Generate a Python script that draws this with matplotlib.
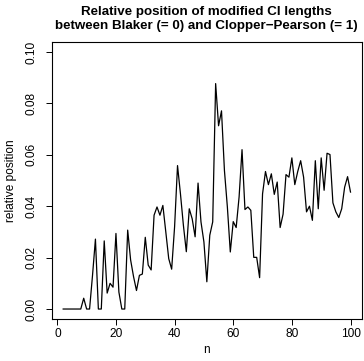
import numpy as np
import matplotlib
matplotlib.use("Agg")
import matplotlib.pyplot as plt

plt.rcParams['font.family'] = ['Liberation Sans', 'DejaVu Sans']

# relative position for n = 2..100
n = list(range(2, 101))
rel_pos = [
    0, 0, 0, 0, 0, 0, 0,                                    # 2-8
    0.0042, 0, 0, 0.013, 0.0272, 0, 0,                      # 9-15
    0.0265, 0.0062, 0.0100, 0.0085, 0.0294,                 # 16-20
    0.0066, 0, 0, 0.0307, 0.0191,                           # 21-25
    0.0126, 0.0072, 0.0131, 0.0136, 0.0279,                 # 26-30
    0.0171, 0.0152, 0.0365, 0.0397, 0.0365,                 # 31-35
    0.0403, 0.0300, 0.0196, 0.0155, 0.0320,                 # 36-40
    0.0558, 0.0448, 0.0326, 0.0223, 0.0390,                 # 41-45
    0.0351, 0.0281, 0.0490, 0.0339, 0.0261,                 # 46-50
    0.0106, 0.0287, 0.0339, 0.0877, 0.0713,                 # 51-55
    0.0771, 0.0539, 0.0397, 0.0222, 0.0340,                 # 56-60
    0.0317, 0.0436, 0.0620, 0.0387, 0.0397,                 # 61-65
    0.0384, 0.0201, 0.0201, 0.0122, 0.0448,                 # 66-70
    0.0535, 0.0484, 0.0526, 0.0446, 0.0494,                 # 71-75
    0.0317, 0.0369, 0.0523, 0.0513, 0.0588,                 # 76-80
    0.0484, 0.0535, 0.0577, 0.0513, 0.0378,                 # 81-85
    0.0400, 0.0345, 0.0577, 0.0390, 0.0588,                 # 86-90
    0.0462, 0.0606, 0.0601, 0.0413, 0.0378,                 # 91-95
    0.0356, 0.0390, 0.0474, 0.0515, 0.0455,                 # 96-100
]
x_ticks = [0, 20, 40, 60, 80, 100]
y_ticks = [0.00, 0.02, 0.04, 0.06, 0.08, 0.10]

fig = plt.figure(figsize=(3.64, 3.61), dpi=100)
ax = fig.add_axes([0.142, 0.1155, 0.8525, 0.769])

ax.plot(n, rel_pos, color='black', linewidth=0.9)

ax.set_xlim(2 - 0.04 * 98, 100 + 0.04 * 98)
ax.set_ylim(-0.004, 0.104)
ax.set_xticks(x_ticks)
ax.set_xticklabels([str(t) for t in x_ticks])
ax.set_yticks(y_ticks)
ax.set_yticklabels(['%.2f' % t for t in y_ticks], rotation=90, va='center')

ax.tick_params(direction='out', length=4, width=0.7, labelsize=8.6, colors='black')
ax.tick_params(axis='x', pad=2.5)
ax.tick_params(axis='y', pad=6)
for s in ax.spines.values():
    s.set_linewidth(0.8)

ax.set_xlabel('n', fontsize=8.6, labelpad=3)
ax.set_ylabel('relative position', fontsize=8.6, labelpad=6)

fig.text(0.566, 0.966, 'Relative position of modified CI lengths',
         ha='center', va='center', fontsize=9.6, fontweight='bold')
fig.text(0.566, 0.928, 'between Blaker (= 0) and Clopper\u2212Pearson (= 1)',
         ha='center', va='center', fontsize=9.6, fontweight='bold')

fig.savefig('out.png', dpi=100)
